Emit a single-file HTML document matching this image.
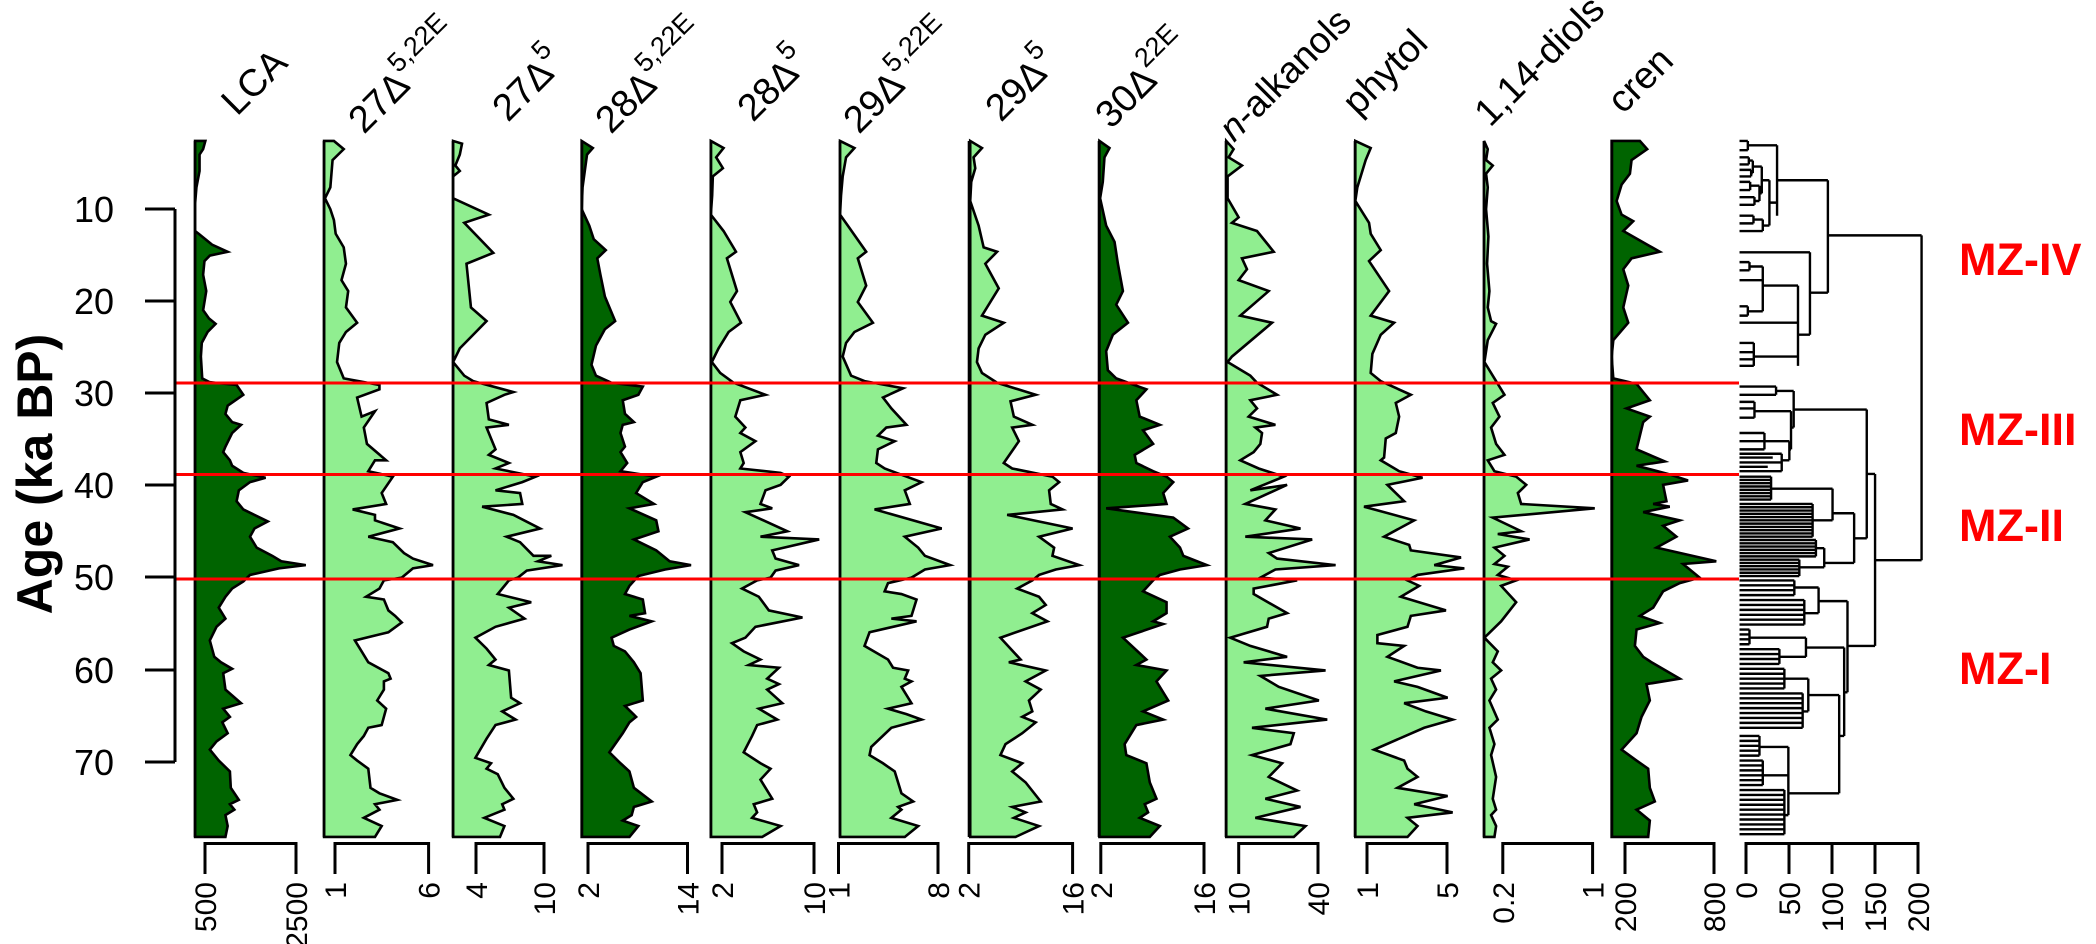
<!DOCTYPE html>
<html><head><meta charset="utf-8"><style>
html,body{margin:0;padding:0;background:#fff;}
svg{display:block;}
text{font-family:"Liberation Sans",Arial,sans-serif;}
.dk{fill:#006400;stroke:#000;stroke-width:2.6;stroke-linejoin:miter;}
.lt{fill:#90EE90;stroke:#000;stroke-width:2.6;stroke-linejoin:miter;}
</style></head><body>
<svg width="2096" height="944" viewBox="0 0 2096 944" xmlns="http://www.w3.org/2000/svg">
<rect width="2096" height="944" fill="#fff"/>

<g transform="translate(0,100) scale(0.4464,0.5459)">
<polygon class="dk" vector-effect="non-scaling-stroke" points="437,75 460,75 455,90 447,100 447,130 440,160 437,190 437,240 445,245 475,265 510,278 470,285 458,295 455,320 462,350 455,385 468,400 483,410 465,425 452,445 450,470 453,510 470,517 530,522 545,540 510,560 505,575 520,590 540,595 520,610 505,635 500,645 515,660 520,670 545,683 595,692 560,700 535,715 530,735 545,750 565,758 600,772 570,785 560,800 575,820 610,835 630,845 685,852 625,858 560,870 545,882 520,895 505,910 490,930 505,950 485,965 470,990 480,1020 495,1030 520,1042 500,1050 505,1080 540,1105 500,1115 515,1130 498,1140 510,1160 485,1175 470,1190 490,1210 515,1230 517,1260 535,1282 515,1290 525,1300 505,1310 510,1330 505,1350 437,1350"/>
<polygon class="lt" vector-effect="non-scaling-stroke" points="726,75 748,75 770,90 745,110 740,160 728,180 740,200 748,220 752,245 770,270 775,300 765,330 780,350 775,380 800,408 775,425 760,445 755,480 770,510 850,522 850,530 800,545 810,580 840,570 815,600 822,630 865,660 840,660 825,680 880,690 855,720 865,740 790,750 840,760 840,770 895,785 825,800 880,810 905,830 925,840 970,852 925,858 900,875 860,880 850,895 820,910 860,915 870,935 885,945 900,957 870,975 795,990 810,1010 825,1030 870,1050 875,1060 860,1065 860,1080 845,1100 865,1115 855,1145 825,1150 815,1165 800,1180 785,1200 800,1210 825,1225 830,1260 850,1270 890,1282 840,1290 850,1300 815,1315 855,1330 840,1350 726,1350"/>
<polygon class="lt" vector-effect="non-scaling-stroke" points="1015,75 1035,80 1030,100 1020,120 1030,130 1015,140 1015,180 1095,210 1040,225 1105,280 1045,300 1050,340 1055,380 1090,405 1060,430 1030,455 1015,480 1040,505 1060,515 1150,535 1130,540 1090,555 1095,585 1140,595 1090,600 1100,620 1110,640 1095,650 1140,665 1110,675 1200,690 1170,700 1110,715 1165,720 1170,740 1080,745 1150,760 1210,785 1135,800 1165,810 1195,835 1235,835 1205,845 1260,852 1180,862 1160,875 1140,880 1115,905 1190,920 1140,930 1175,950 1110,965 1065,985 1090,1005 1110,1025 1095,1035 1140,1045 1145,1095 1165,1105 1125,1120 1155,1135 1110,1145 1090,1170 1065,1205 1100,1215 1090,1225 1115,1235 1130,1260 1150,1280 1125,1290 1130,1300 1085,1315 1130,1330 1120,1350 1015,1350"/>
<polygon class="dk" vector-effect="non-scaling-stroke" points="1303,75 1328,88 1315,100 1310,130 1305,160 1303,200 1320,230 1330,255 1357,275 1338,290 1345,320 1355,360 1378,405 1355,420 1335,450 1325,485 1335,505 1370,518 1440,525 1430,540 1395,550 1400,575 1420,590 1395,595 1390,610 1400,635 1390,645 1405,665 1390,680 1470,690 1440,700 1425,720 1465,740 1410,748 1470,770 1475,790 1420,805 1470,825 1500,845 1548,852 1490,860 1430,872 1410,890 1400,905 1440,915 1445,940 1410,945 1460,955 1410,970 1370,985 1375,1000 1400,1010 1420,1030 1435,1050 1440,1100 1400,1110 1425,1130 1410,1140 1395,1160 1365,1195 1390,1215 1410,1230 1420,1260 1460,1285 1420,1295 1415,1310 1395,1320 1430,1330 1410,1350 1303,1350"/>
</g>

<g transform="translate(690,100) scale(0.3356,0.5459)">
<polygon class="lt" vector-effect="non-scaling-stroke" points="62,75 100,88 78,105 98,125 68,140 66,175 62,210 100,240 137,278 110,290 125,320 140,350 120,370 152,408 115,425 85,455 65,480 90,500 130,518 225,540 150,550 135,580 165,600 150,610 195,625 150,645 160,665 150,675 270,683 295,690 270,705 225,715 210,740 245,748 165,755 290,790 210,800 385,805 245,825 255,840 325,852 255,862 240,875 200,880 155,895 205,910 235,935 335,948 195,965 165,985 125,995 160,1010 210,1025 175,1035 265,1040 230,1060 265,1070 230,1080 275,1105 205,1115 260,1135 200,1145 185,1165 160,1195 210,1215 240,1225 210,1245 245,1280 190,1290 200,1305 185,1315 270,1330 215,1350 62,1350"/>
<polygon class="lt" vector-effect="non-scaling-stroke" points="447,75 490,88 465,105 455,140 450,175 447,210 470,230 525,278 500,290 525,340 500,370 545,408 490,425 465,445 455,470 480,505 520,515 635,528 575,545 600,565 645,595 585,600 560,615 610,625 560,640 555,665 580,675 690,700 640,715 655,740 550,750 750,785 640,800 680,820 700,835 775,852 700,860 660,875 590,885 580,900 630,905 675,915 660,945 600,950 675,955 535,975 520,1000 590,1025 605,1040 650,1045 640,1060 660,1065 630,1075 660,1105 590,1115 645,1125 690,1135 600,1150 540,1185 535,1200 575,1215 610,1230 630,1270 665,1285 620,1295 630,1300 600,1315 680,1330 640,1350 447,1350"/>
<polygon class="lt" vector-effect="non-scaling-stroke" points="835,75 870,88 845,105 850,125 838,150 835,185 860,230 875,270 915,278 880,300 920,345 870,395 935,408 880,430 860,455 855,480 870,500 915,518 1030,540 955,552 965,580 1020,595 960,600 980,625 935,665 960,675 1080,690 1100,700 1070,715 1075,740 1110,750 945,760 1140,785 1040,800 1085,820 1080,835 1160,852 1090,860 1040,870 1020,880 975,895 1040,910 1060,925 1020,940 1065,955 925,985 985,1025 950,1030 1060,1045 1000,1065 1045,1080 1010,1100 1020,1120 990,1130 1030,1140 990,1160 940,1180 925,1200 990,1215 960,1230 1000,1250 1045,1285 960,1295 1000,1305 965,1315 1040,1330 970,1350 835,1350"/>
<polygon class="dk" vector-effect="non-scaling-stroke" points="1220,75 1250,88 1235,105 1230,150 1222,180 1240,230 1265,260 1275,300 1290,350 1270,375 1305,408 1260,430 1240,460 1245,495 1270,510 1360,530 1330,550 1340,580 1400,595 1350,605 1380,630 1325,650 1330,665 1380,680 1420,690 1440,700 1410,720 1420,740 1240,748 1440,765 1484,785 1430,800 1460,820 1470,835 1540,852 1460,860 1400,870 1380,880 1350,900 1420,920 1420,940 1380,955 1410,960 1290,985 1360,1025 1330,1035 1420,1045 1390,1065 1425,1100 1350,1120 1410,1135 1330,1145 1295,1180 1300,1200 1360,1215 1370,1250 1390,1280 1355,1290 1365,1305 1340,1315 1400,1330 1370,1350 1220,1350"/>
</g>

<g transform="translate(1150,100) scale(0.3344,0.5459)">
<polygon class="lt" vector-effect="non-scaling-stroke" points="228,75 250,90 235,105 275,120 232,140 232,180 265,215 245,225 320,240 370,278 275,290 290,310 265,330 355,350 270,395 365,408 245,470 232,480 300,505 320,518 380,540 300,550 320,565 295,580 375,595 315,600 335,610 330,630 310,645 270,660 325,675 400,690 300,715 410,705 285,740 375,750 345,770 450,785 285,800 485,805 355,830 380,840 555,852 375,860 330,875 440,880 310,895 310,905 410,940 355,950 350,965 240,985 300,1000 410,1020 280,1030 525,1045 330,1055 385,1075 505,1100 345,1115 530,1135 305,1150 430,1160 420,1180 305,1200 395,1215 355,1240 440,1265 345,1280 450,1295 315,1315 465,1330 430,1350 228,1350"/>
<polygon class="lt" vector-effect="non-scaling-stroke" points="614,75 660,88 645,110 620,160 614,185 655,225 660,245 690,275 655,295 715,350 660,395 730,408 690,430 665,465 660,500 690,515 780,540 735,555 745,580 735,610 705,620 700,655 690,660 745,680 815,692 710,705 760,735 640,745 790,770 700,800 775,815 780,825 930,838 850,852 940,858 800,870 770,880 805,890 750,910 885,935 780,945 770,965 680,980 680,995 760,1000 710,1020 800,1040 870,1045 730,1065 800,1075 890,1095 760,1105 825,1120 905,1135 820,1150 670,1190 760,1210 770,1225 800,1240 740,1260 890,1275 790,1290 905,1305 770,1315 800,1330 770,1350 614,1350"/>
<polygon class="lt" vector-effect="non-scaling-stroke" points="999,75 1010,90 1005,110 1025,120 1005,135 1010,160 1005,200 1012,250 1008,300 1015,350 1010,380 1020,405 1035,410 1010,440 1000,480 1030,510 1060,540 1025,555 1045,580 1020,600 1035,630 1060,650 1010,660 1030,680 1095,690 1125,705 1100,720 1110,740 1330,748 1025,765 1110,790 1040,795 1135,805 1030,820 1060,835 1030,850 1070,855 1040,870 1095,880 1050,890 1095,920 1050,955 1000,985 1040,1010 1025,1030 1050,1045 1020,1060 1035,1080 1015,1100 1040,1135 1015,1150 1030,1180 1020,1200 1035,1240 1025,1280 1035,1300 1020,1310 1035,1330 1030,1350 999,1350"/>
</g>

<g transform="translate(1600,100) scale(0.3322,0.5459)">
<polygon class="dk" vector-effect="non-scaling-stroke" points="35,75 120,75 142,90 95,110 90,135 65,155 50,185 65,210 100,222 70,240 180,278 95,290 70,310 85,340 70,380 85,408 40,440 35,470 40,510 110,520 150,550 80,565 150,580 130,590 110,640 195,662 110,670 205,685 265,697 190,705 200,735 160,740 210,745 130,755 240,770 190,780 230,800 170,820 350,845 250,850 300,875 240,885 190,900 160,930 120,945 180,958 110,970 105,1000 130,1020 155,1030 240,1060 140,1070 150,1100 125,1130 110,1160 65,1190 110,1210 145,1225 150,1260 165,1285 110,1300 150,1320 145,1350 35,1350"/>
<path fill="none" stroke="#000" stroke-width="2.4" vector-effect="non-scaling-stroke" d="
M420,75H445 M420,92H445 M445,75V92 M445,83H533
M420,105H448 M420,118H448 M448,105V118 M448,111H460
M420,128H455 M420,140H455 M455,128V140 M455,134H460
M460,111V134 M460,122H487
M420,150H452 M420,165H452 M452,150V165 M452,157H480
M420,178H465 M420,192H465 M465,178V192 M465,185H480
M480,157V185 M480,171H487
M487,122V171 M487,147H510
M420,212H462 M420,226H462 M462,212V226 M462,219H490
M420,240H490 M490,219V240 M490,230H510
M510,147V230 M510,188H533 M533,83V212 M533,147H686
M420,279H632
M420,297H450 M420,312H450 M450,297V312 M450,305H490
M420,330H490 M420,378H445 M420,395H445 M445,378V395 M445,387H490
M490,305V387 M490,340H596
M420,408H596
M420,445H463 M420,462H463 M420,475H463 M420,487H463 M463,445V487 M463,470H596
M596,340V487 M596,430H632
M632,279V430 M632,353H686
M686,147V353 M686,248H968
M968,248V843 M828,843H968
M420,525H530 M420,540H530 M530,525V540 M530,533H583
M420,553H465 M420,565H465 M420,582H465 M465,553V582 M465,570H575
M420,610H495 M420,625H495 M420,640H495 M495,610V640 M495,625H570
M420,648H547 M420,655H520 M420,664H547 M420,672H505 M420,680H547 M547,648V680 M547,660H570
M570,625V660 M570,640H575
M575,570V640 M575,600H583
M583,533V600 M583,567H803
M420,690H515 M420,696H515 M420,702H515 M420,708H515 M420,714H515 M420,720H515 M420,726H515 M420,732H515
M515,690V732 M515,712H700
M420,740H640 M420,746H640 M420,752H640 M420,758H640 M420,764H640 M420,770H640 M420,776H640 M420,782H640 M420,788H640 M420,794H640 M420,800H640
M640,740V800 M640,770H700
M700,712V770 M700,757H765
M420,806H650 M420,812H650 M420,818H650 M420,824H650 M420,830H650 M420,836H650
M650,806V836 M650,821H675
M420,842H600 M420,848H600 M420,854H600 M420,860H600 M420,866H600 M420,872H600
M600,842V872 M600,856H675
M675,821V856 M675,848H765
M765,757V848 M765,803H803
M803,567V803 M803,685H828
M420,880H585 M420,889H585 M420,898H585 M420,907H585 M585,880V907 M585,893H658
M420,916H615 M420,925H615 M420,934H615 M420,943H615 M420,952H615 M420,961H615 M615,916V961 M615,940H658
M658,893V940 M658,918H745
M420,970H450 M420,979H450 M420,988H450 M420,997H450 M450,970V997 M450,985H620
M420,1006H540 M420,1015H540 M420,1024H540 M420,1033H540 M540,1006V1033 M540,1020H620
M620,985V1020 M620,1003H735
M420,1042H555 M420,1051H555 M420,1060H555 M420,1069H555 M420,1078H555 M555,1042V1078 M555,1060H627
M420,1087H610 M420,1096H610 M420,1105H610 M420,1114H610 M420,1123H610 M420,1132H610 M420,1141H610 M420,1150H610 M610,1087V1150 M610,1120H627
M627,1060V1120 M627,1090H720
M420,1165H480 M420,1174H480 M420,1183H480 M420,1192H480 M420,1201H480 M480,1165V1201 M480,1185H567
M420,1210H490 M420,1219H490 M420,1228H490 M420,1237H490 M420,1246H490 M420,1255H490 M490,1210V1255 M490,1237H567
M420,1264H555 M420,1273H555 M420,1282H555 M420,1291H555 M420,1300H555 M420,1309H555 M420,1318H555 M420,1327H555 M420,1336H555 M420,1345H555 M555,1264V1345 M555,1310H567
M567,1185V1310 M567,1270H720
M720,1090V1270 M720,1165H735
M735,1003V1165 M735,1085H745
M745,918V1085 M745,1000H828
M828,685V1000"/>
</g>

<g stroke="#000" stroke-width="2.6">
<line x1="195" y1="141" x2="195" y2="837"/><line x1="324" y1="141" x2="324" y2="837"/>
<line x1="453" y1="141" x2="453" y2="837"/><line x1="582" y1="141" x2="582" y2="837"/>
<line x1="711" y1="141" x2="711" y2="837"/><line x1="840" y1="141" x2="840" y2="837"/>
<line x1="969" y1="141" x2="969" y2="837"/><line x1="1099" y1="141" x2="1099" y2="837"/>
<line x1="1226" y1="141" x2="1226" y2="837"/><line x1="1355" y1="141" x2="1355" y2="837"/>
<line x1="1484" y1="141" x2="1484" y2="837"/><line x1="1612" y1="141" x2="1612" y2="837"/>
</g>

<g stroke="#ff0000" stroke-width="3">
<line x1="175" y1="383" x2="1739" y2="383"/>
<line x1="175" y1="474.5" x2="1739" y2="474.5"/>
<line x1="175" y1="579" x2="1739" y2="579"/>
</g>

<g stroke="#000" stroke-width="3" fill="none">
<path d="M175,209V762 M145,209H175 M145,301H175 M145,393H175 M145,485H175 M145,577H175 M145,670H175 M145,762H175"/>
</g>
<g font-size="36" text-anchor="end" fill="#000">
<text x="114" y="222">10</text><text x="114" y="314">20</text><text x="114" y="406">30</text>
<text x="114" y="498">40</text><text x="114" y="590">50</text><text x="114" y="683">60</text><text x="114" y="775">70</text>
</g>
<text transform="translate(52,474) rotate(-90)" text-anchor="middle" font-size="50" font-weight="bold">Age (ka BP)</text>

<g stroke="#000" stroke-width="3" fill="none">
<path d="M205,874V843.5H296V874 M335,874V843.5H428.6V874 M476,874V843.5H544V874 M588,874V843.5H687.5V874 M722,874V843.5H814V874 M838.5,874V843.5H938V874 M968.7,874V843.5H1072.6V874 M1100.8,874V843.5H1204V874 M1238.7,874V843.5H1318V874 M1367,874V843.5H1447V874 M1502.8,874V843.5H1592.6V874 M1625,874V843.5H1714V874 M1746,874V843.5H1918V874 M1789,843.5V874 M1832,843.5V874 M1875,843.5V874"/>
</g>
<g font-size="30" text-anchor="end" fill="#000">
<text transform="translate(216,882) rotate(-90)">500</text><text transform="translate(307,882) rotate(-90)">2500</text>
<text transform="translate(346,882) rotate(-90)">1</text><text transform="translate(439.6,882) rotate(-90)">6</text>
<text transform="translate(487,882) rotate(-90)">4</text><text transform="translate(555,882) rotate(-90)">10</text>
<text transform="translate(599,882) rotate(-90)">2</text><text transform="translate(698.5,882) rotate(-90)">14</text>
<text transform="translate(733,882) rotate(-90)">2</text><text transform="translate(825,882) rotate(-90)">10</text>
<text transform="translate(849.5,882) rotate(-90)">1</text><text transform="translate(949,882) rotate(-90)">8</text>
<text transform="translate(979.7,882) rotate(-90)">2</text><text transform="translate(1083.6,882) rotate(-90)">16</text>
<text transform="translate(1111.8,882) rotate(-90)">2</text><text transform="translate(1215,882) rotate(-90)">16</text>
<text transform="translate(1249.7,882) rotate(-90)">10</text><text transform="translate(1329,882) rotate(-90)">40</text>
<text transform="translate(1378,882) rotate(-90)">1</text><text transform="translate(1458,882) rotate(-90)">5</text>
<text transform="translate(1513.8,882) rotate(-90)">0.2</text><text transform="translate(1603.6,882) rotate(-90)">1</text>
<text transform="translate(1636,882) rotate(-90)">200</text><text transform="translate(1725,882) rotate(-90)">800</text>
<text transform="translate(1757,882) rotate(-90)">0</text><text transform="translate(1800,882) rotate(-90)">50</text>
<text transform="translate(1843,882) rotate(-90)">100</text><text transform="translate(1886,882) rotate(-90)">150</text>
<text transform="translate(1929,882) rotate(-90)">200</text>
</g>

<g font-size="38" fill="#000">
<text transform="translate(237,117) rotate(-45)">LCA</text>
<text transform="translate(364,135) rotate(-45)">27Δ<tspan font-size="27" dy="-19">5,22E</tspan></text>
<text transform="translate(508,123) rotate(-45)">27Δ<tspan font-size="27" dy="-19">5</tspan></text>
<text transform="translate(611,135) rotate(-45)">28Δ<tspan font-size="27" dy="-19">5,22E</tspan></text>
<text transform="translate(753,123) rotate(-45)">28Δ<tspan font-size="27" dy="-19">5</tspan></text>
<text transform="translate(859,135) rotate(-45)">29Δ<tspan font-size="27" dy="-19">5,22E</tspan></text>
<text transform="translate(1001,123) rotate(-45)">29Δ<tspan font-size="27" dy="-19">5</tspan></text>
<text transform="translate(1111,130) rotate(-45)">30Δ<tspan font-size="27" dy="-19">22E</tspan></text>
<text transform="translate(1234,143) rotate(-45)" font-size="37"><tspan font-style="italic">n</tspan>-alkanols</text>
<text transform="translate(1358,117) rotate(-45)">phytol</text>
<text transform="translate(1490,128) rotate(-45)">1,14-diols</text>
<text transform="translate(1623,115) rotate(-45)">cren</text>
</g>

<g font-size="45" font-weight="bold" fill="#ff0000">
<text x="1959" y="275">MZ-IV</text>
<text x="1959" y="445">MZ-III</text>
<text x="1959" y="541">MZ-II</text>
<text x="1959" y="684">MZ-I</text>
</g>
</svg>
</body></html>
